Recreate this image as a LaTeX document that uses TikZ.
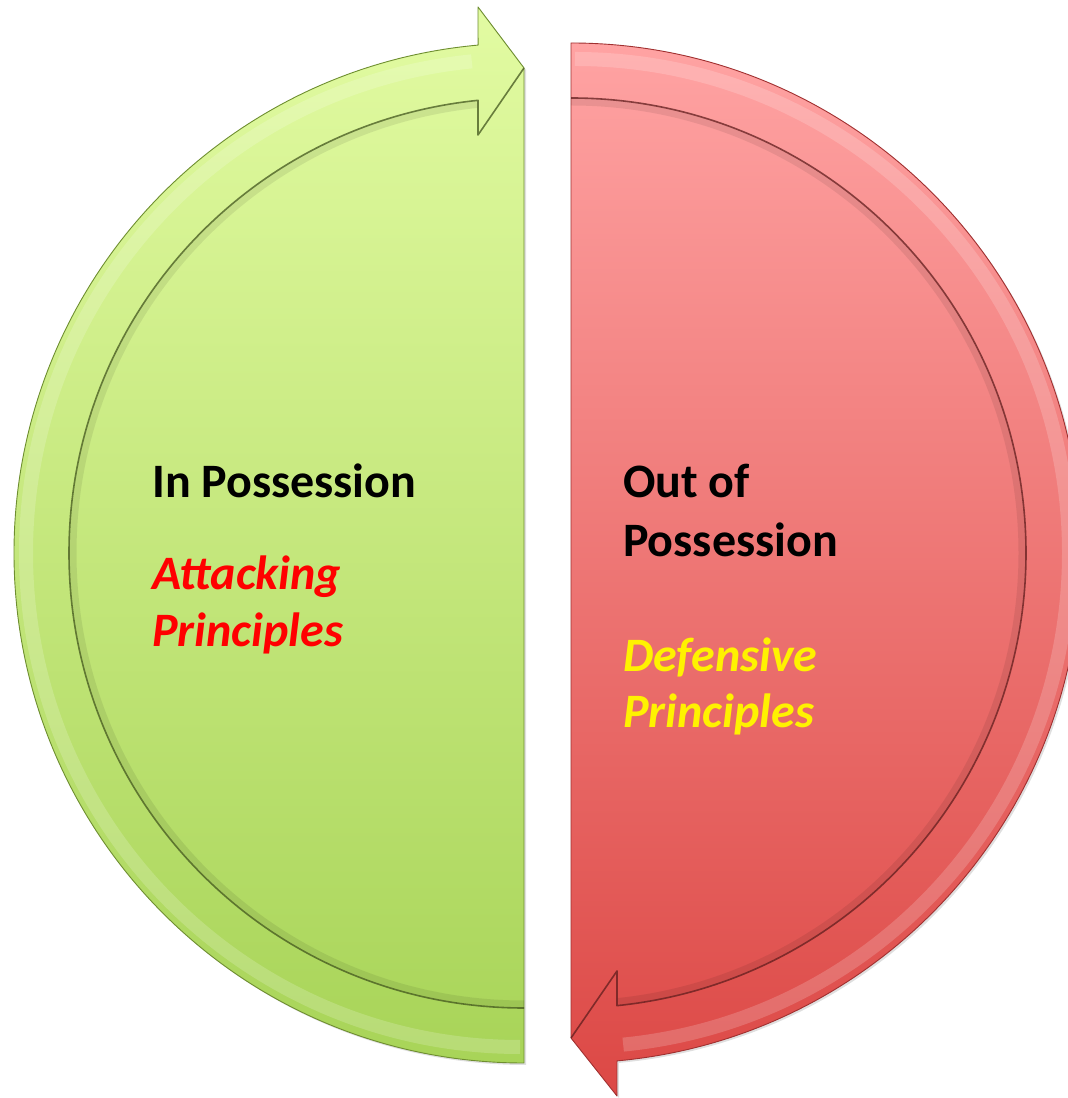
\documentclass[tikz,border=0pt]{standalone}
\usepackage{fontspec}
\setmainfont{Carlito}
\usetikzlibrary{shadows}
\definecolor{gtop}{HTML}{E2FBA2}
\definecolor{gbot}{HTML}{A8D458}
\definecolor{rtop}{HTML}{FFA3A3}
\definecolor{rbot}{HTML}{DC4845}
\definecolor{gedge}{HTML}{6E8E30}
\definecolor{redge}{HTML}{A03030}
\begin{document}
\begin{tikzpicture}[x=1pt,y=1pt,
  halfshape/.style={line width=0.9pt, line join=round, drop shadow={opacity=0.25,shadow xshift=2pt,shadow yshift=-2pt}},
  ringline/.style={line width=1.6pt, draw opacity=0.75, line join=round},
  ringshade/.style={line width=7pt, draw=black, draw opacity=0.08},
  highlight/.style={line width=14pt, draw=white, draw opacity=0.18},
  head/.style={font=\bfseries\fontsize{48}{58}\selectfont, anchor=base west, inner sep=0pt, text=black},
  sub/.style={font=\bfseries\itshape\fontsize{48}{58}\selectfont, anchor=base west, inner sep=0pt}]
\useasboundingbox (0,0) rectangle (1068,1098);
\clip (0,0) rectangle (1068,1098);
% green half (in possession)
\path[halfshape, draw=gedge, top color=gtop, bottom color=gbot]
  (524,35) arc[start angle=270,end angle=95.17,radius=510] -- (478,1091) -- (524,1030) -- cycle;
\draw[highlight] (520,51) arc[start angle=270,end angle=95.6,radius=494];
\draw[ringshade] (524,94) arc[start angle=270,end angle=96,radius=451];
\draw[ringline, draw=gedge!60!black] (524,90) arc[start angle=270,end angle=95.80,radius=455] -- (478,963) -- (524,1030);
% red half (out of possession)
\path[halfshape, draw=redge, top color=rtop, bottom color=rbot]
  (571,1055) arc[start angle=90,end angle=-84.83,radius=510] -- (617,2) -- (571,60) -- cycle;
\draw[highlight] (575,1039) arc[start angle=90,end angle=-84.4,radius=494];
\draw[ringshade] (571,996) arc[start angle=90,end angle=-84,radius=451];
\draw[ringline, draw=redge!60!black] (571,1000) arc[start angle=90,end angle=-84.20,radius=455] -- (617,127) -- (571,60);
% texts
\node[head] (inpos) at (152,600) {In Possession};
\node[sub, text=red] (att) at (152,508) {Attacking};
\node[sub, text=red] (prinA) at (152,451) {Principles};
\node[head] (outof) at (623,600) {Out of};
\node[head] (posB) at (623,541) {Possession};
\node[sub, text=yellow] (def) at (623,426) {Defensive};
\node[sub, text=yellow] (prinB) at (623,370) {Principles};
\end{tikzpicture}
\end{document}
